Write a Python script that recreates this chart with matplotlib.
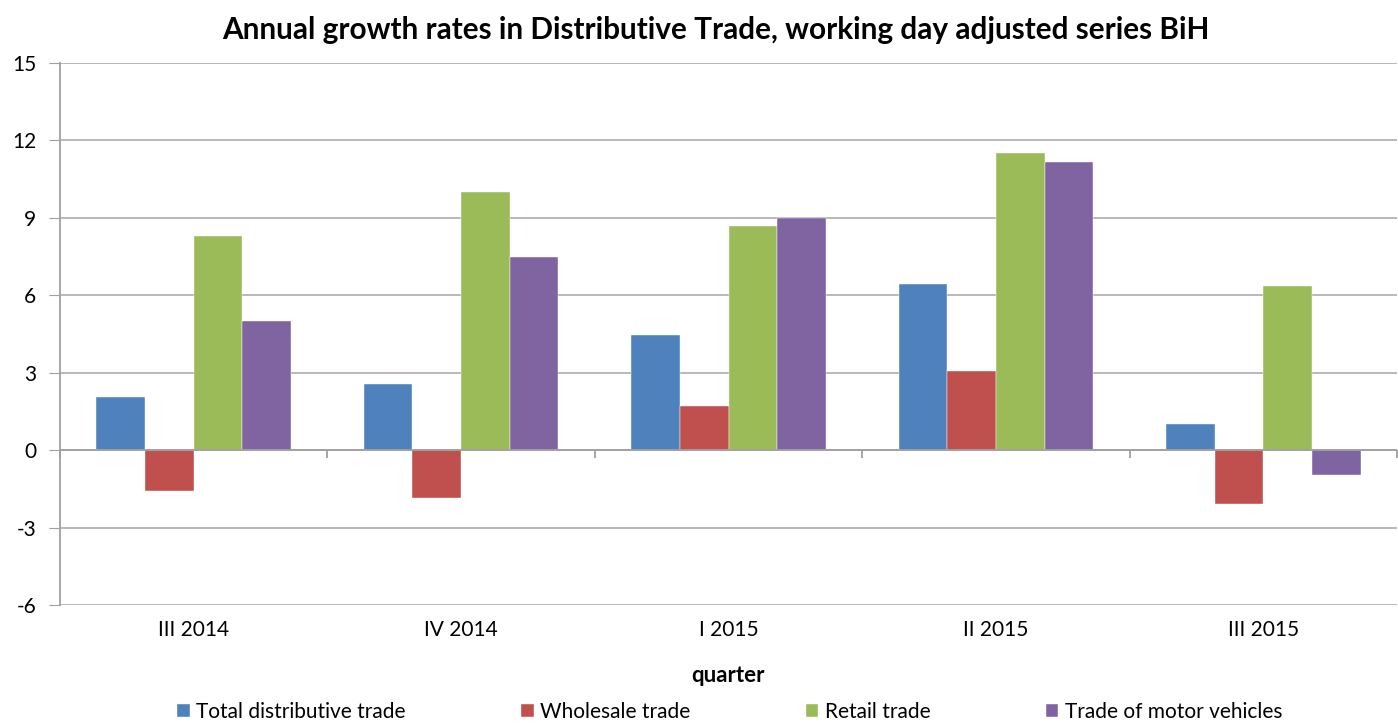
import numpy as np
import matplotlib.pyplot as plt

plt.rcParams['font.family'] = ['Lato', 'DejaVu Sans']
plt.rcParams['axes.unicode_minus'] = False

quarters = ["III 2014", "IV 2014", "I 2015", "II 2015", "III 2015"]
total = [2.05, 2.55, 4.45, 6.45, 1.0]
wholesale = [-1.6, -1.85, 1.7, 3.05, -2.1]
retail = [8.3, 10.0, 8.7, 11.5, 6.35]
motor = [5.0, 7.5, 9.0, 11.15, -0.95]

series = [("Total distributive trade", total, "#4f81bd"),
          ("Wholesale trade", wholesale, "#c0504d"),
          ("Retail trade", retail, "#9bbb59"),
          ("Trade of motor vehicles", motor, "#8064a2")]

fig = plt.figure(figsize=(13.98, 7.24), dpi=100)
ax = fig.add_axes([60/1398, 1-605/724, 1-61/1398, (605-63)/724])

x = np.arange(len(quarters))
w = 1/5.5
for i, (name, vals, col) in enumerate(series):
    ax.bar(x + (i - 1.5)*w, vals, w, color=col, label=name, zorder=3,
           edgecolor='white', linewidth=0.3)

ax.set_xlim(-0.5, len(quarters) - 0.5)
ax.set_ylim(-6, 15)
ax.set_yticks(np.arange(-6, 16, 3))
ax.yaxis.grid(True, color='#a6a6a6', linewidth=1.1, zorder=0)
ax.axhline(0, color='#a0a0a0', linewidth=1.3, zorder=4)
# category separator ticks on the zero line
ax.vlines(np.arange(len(quarters) + 1) - 0.5, -0.32, 0, color='#a0a0a0', linewidth=1.3,
          zorder=4, clip_on=False)

for s in ['top', 'right', 'bottom']:
    ax.spines[s].set_visible(False)
ax.spines['left'].set_color('#a0a0a0')
ax.spines['left'].set_linewidth(1.3)
ax.tick_params(axis='y', length=8, color='#a0a0a0', labelsize=15, pad=9)
ax.set_xticks(x)
ax.set_xticklabels(quarters)
ax.tick_params(axis='x', length=0, labelsize=15, pad=11)

ax.set_xlabel("quarter", fontsize=16, fontweight='bold', labelpad=18)
fig.suptitle("Annual growth rates in Distributive Trade, working day adjusted series BiH",
             x=716/1398, y=0.978, fontsize=21.4, fontweight='bold')

leg = fig.legend(loc='center', bbox_to_anchor=(0.522, 0.017), ncol=4, frameon=False,
                 fontsize=15, handlelength=0.6, handleheight=0.6, handletextpad=0.3,
                 columnspacing=5.55, borderpad=0.2)

fig.savefig("out.png", dpi=100)
